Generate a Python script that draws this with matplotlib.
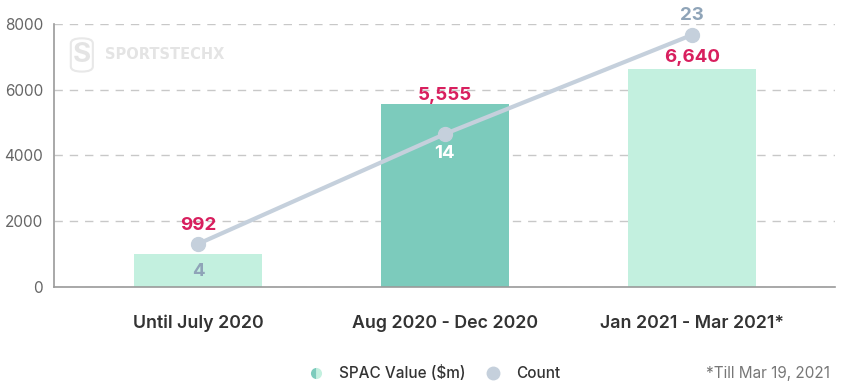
import matplotlib
matplotlib.use('Agg')
import matplotlib.pyplot as plt
from matplotlib.lines import Line2D
from matplotlib.patches import FancyBboxPatch

# ---------------------------------------------------------------------------
# Data
# ---------------------------------------------------------------------------
periods = ['Until July 2020', 'Aug 2020 - Dec 2020', 'Jan 2021 - Mar 2021*']
spac_value = [992, 5555, 6640]
spac_count = [4, 14, 23]
value_labels = ['992', '5,555', '6,640']
yticks = [0, 2000, 4000, 6000, 8000]

# Colours
BAR_LIGHT = '#c3f0df'
BAR_DARK = '#7ccbbc'
VALUE_RED = '#d81f5e'
COUNT_GREY = '#8fa4b8'
LINE_COL = '#c5d0dc'
GRID_COL = '#c8c8c8'

plt.rcParams['font.family'] = ['Inter', 'DejaVu Sans']

fig = plt.figure(figsize=(8.48, 3.87), dpi=100)
ax = fig.add_axes([0.0637, 0.2584, 0.921, 0.6796])

x = range(len(periods))
ax.bar(x, spac_value, width=0.52,
       color=[BAR_LIGHT, BAR_DARK, BAR_LIGHT], zorder=2)

ax.set_xlim(-0.583, 2.58)
ax.set_ylim(0, 8000)
ax.set_yticks(yticks)
ax.set_yticklabels([str(t) for t in yticks], color='#666666', fontsize=11)
ax.tick_params(axis='y', length=0, pad=8)
ax.tick_params(axis='x', length=0, pad=20)
ax.set_xticks(list(x))
ax.set_xticklabels(periods, fontsize=12.8, color='#333333', fontweight='semibold')

ax.yaxis.grid(True, linestyle=(0, (6, 5)), color=GRID_COL, linewidth=1)
ax.set_axisbelow(True)
for s in ['top', 'right']:
    ax.spines[s].set_visible(False)
for s in ['left', 'bottom']:
    ax.spines[s].set_color('#9a9a9a')
    ax.spines[s].set_linewidth(1.2)

# value labels above bars (first one lifted over the count marker)
offsets = [15, 0, 2]
for xi, v, lab, off in zip(x, spac_value, value_labels, offsets):
    ax.annotate(lab, (xi, v), xytext=(0, off), textcoords='offset points',
                ha='center', va='bottom', color=VALUE_RED,
                fontsize=13.5, fontweight='bold', zorder=5)

# count on a secondary axis
ax2 = ax.twinx()
ax2.set_ylim(0.084, 24.0)
ax2.axis('off')
ax2.plot(list(x), spac_count, color=LINE_COL, linewidth=3,
         marker='o', markersize=10, zorder=3, solid_capstyle='round')

count_offsets = [(0, -14, 'top'), (0, -8, 'top'), (0, 8, 'bottom')]
count_colors = [COUNT_GREY, 'white', COUNT_GREY]
for xi, c, (dx, dy, va), col in zip(x, spac_count, count_offsets, count_colors):
    ax2.annotate(str(c), (xi, c), xytext=(dx, dy), textcoords='offset points',
                 ha='center', va=va, color=col, fontsize=13.5,
                 fontweight='bold', annotation_clip=False)

# watermark (logo + wordmark)
fig.text(0.124, 0.858, 'SPORTSTECHX', color='#e4e4e4', fontsize=10.5,
         fontweight='bold', va='center', ha='left',
         family=['Liberation Sans Narrow', 'DejaVu Sans'])
fig.text(0.0965, 0.858, 'S', color='#e4e4e4', fontsize=20,
         fontweight='bold', va='center', ha='center')
fig.add_artist(FancyBboxPatch((0.0835, 0.815), 0.026, 0.086,
                              boxstyle='round,pad=0,rounding_size=0.013',
                              transform=fig.transFigure, fill=False,
                              edgecolor='#e8e8e8', linewidth=1.5))

# legend
handles = [
    Line2D([], [], marker='o', linestyle='none', markersize=8,
           markerfacecolor=BAR_DARK, markeredgecolor=BAR_LIGHT,
           markerfacecoloralt=BAR_LIGHT, fillstyle='left', markeredgewidth=0),
    Line2D([], [], marker='o', linestyle='none', markersize=10,
           markerfacecolor=LINE_COL, markeredgewidth=0),
]
leg = fig.legend(handles, ['SPAC Value ($m)', 'Count'], loc='center',
                 bbox_to_anchor=(0.508, 0.035), ncol=2, frameon=False,
                 fontsize=11, handletextpad=0.5, columnspacing=0.8,
                 labelcolor='#333333')
for t in leg.get_texts():
    t.set_fontweight('medium')

fig.text(0.979, 0.035, '*Till Mar 19, 2021', ha='right', va='center',
         color='#777777', fontsize=11)

fig.savefig('out.png', dpi=100)
